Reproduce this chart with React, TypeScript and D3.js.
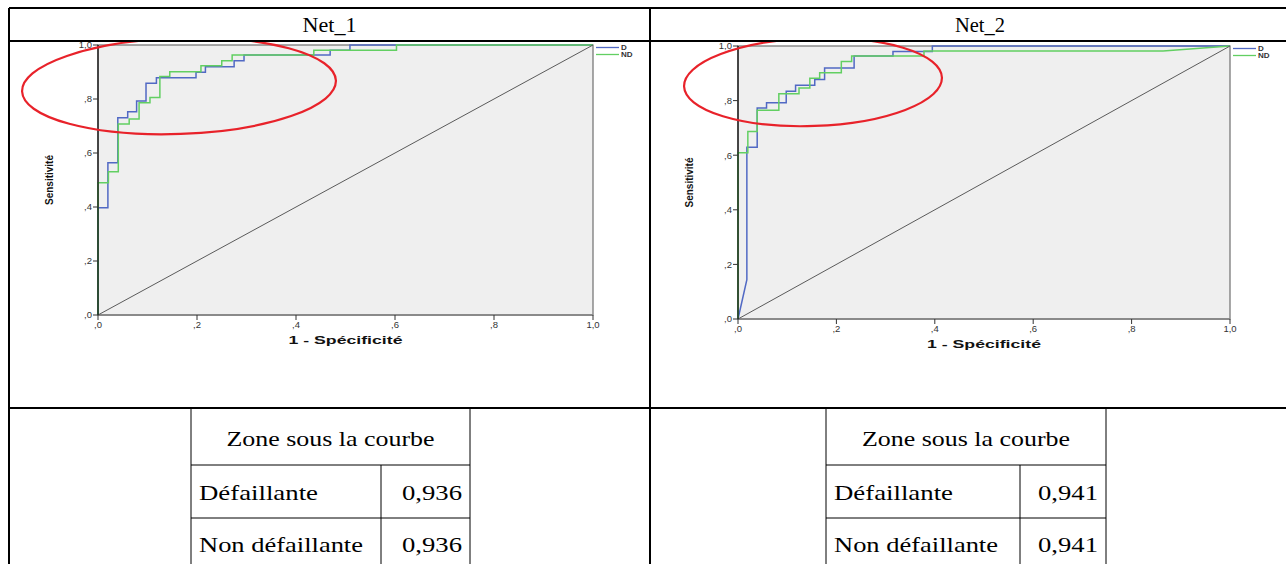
import React from 'react';
import * as d3 from 'd3';

// ROC step points [1 - specificity, sensitivity]
const net1D: [number, number][] = [
  [0, 0], [0, 0.397], [0.02, 0.397], [0.02, 0.564], [0.04, 0.564], [0.04, 0.731],
  [0.06, 0.731], [0.06, 0.753], [0.078, 0.753], [0.078, 0.793], [0.097, 0.793],
  [0.097, 0.858], [0.118, 0.858], [0.118, 0.879], [0.198, 0.879], [0.198, 0.899],
  [0.217, 0.899], [0.217, 0.919], [0.275, 0.919], [0.275, 0.942], [0.295, 0.942],
  [0.295, 0.963], [0.469, 0.963], [0.469, 0.981], [0.509, 0.981], [0.509, 1], [1, 1],
];
const net1ND: [number, number][] = [
  [0, 0], [0, 0.49], [0.021, 0.49], [0.021, 0.531], [0.041, 0.531], [0.041, 0.707],
  [0.063, 0.707], [0.063, 0.726], [0.083, 0.726], [0.083, 0.786], [0.105, 0.786],
  [0.105, 0.806], [0.125, 0.806], [0.125, 0.883], [0.145, 0.883], [0.145, 0.901],
  [0.208, 0.901], [0.208, 0.923], [0.25, 0.923], [0.25, 0.942], [0.271, 0.942],
  [0.271, 0.963], [0.436, 0.963], [0.436, 0.981], [0.603, 0.981], [0.603, 1], [1, 1],
];
const net2D: [number, number][] = [
  [0, 0], [0.018, 0.144], [0.018, 0.629], [0.039, 0.629], [0.039, 0.773], [0.058, 0.773],
  [0.058, 0.792], [0.098, 0.792], [0.098, 0.834], [0.117, 0.834], [0.117, 0.856],
  [0.156, 0.856], [0.156, 0.877], [0.176, 0.877], [0.176, 0.919], [0.236, 0.919],
  [0.236, 0.963], [0.315, 0.963], [0.315, 0.98], [0.395, 0.98], [0.395, 1], [1, 1],
];
const net2ND: [number, number][] = [
  [0, 0], [0, 0.609], [0.02, 0.609], [0.02, 0.687], [0.039, 0.687], [0.039, 0.765],
  [0.083, 0.765], [0.083, 0.825], [0.124, 0.825], [0.124, 0.846], [0.146, 0.846],
  [0.146, 0.882], [0.166, 0.882], [0.166, 0.902], [0.21, 0.902], [0.21, 0.943],
  [0.231, 0.943], [0.231, 0.963], [0.378, 0.963], [0.378, 0.982], [0.864, 0.982], [1, 1],
];

const ticks = [0, 0.2, 0.4, 0.6, 0.8, 1.0];
const tickLabels = [',0', ',2', ',4', ',6', ',8', '1,0'];
const legendLabels = ['D', 'ND'];
const aucRowLabels = ['Défaillante', 'Non défaillante'];
const net1Auc = ['0,936', '0,936'];
const net2Auc = ['0,941', '0,941'];

const BLUE = '#5169c4';
const GREEN = '#62cf62';
const SERIF = '"Liberation Serif", "Times New Roman", serif';
const SANS = '"Liberation Sans", Arial, sans-serif';

type Panel = {
  x0: number; x1: number; y0: number; y1: number;
  d: [number, number][]; nd: [number, number][];
  ylabX: number;
  ell: { cx: number; cy: number; rx: number; ry: number };
};

const RocPlot = ({ p }: { p: Panel }) => {
  const x = d3.scaleLinear().domain([0, 1]).range([p.x0, p.x1]);
  const y = d3.scaleLinear().domain([0, 1]).range([p.y0, p.y1]);
  const line = d3.line<[number, number]>().x(d => x(d[0])).y(d => y(d[1]));
  const cy = (p.y0 + p.y1) / 2;
  return (
    <g>
      <rect x={x(0)} y={y(1)} width={x(1) - x(0)} height={y(0) - y(1)} fill="#efefef" stroke="#6f6f6f" strokeWidth={1.2} />
      <line x1={x(0)} x2={x(1)} y1={y(0)} y2={y(0)} stroke="#8a8a8a" strokeWidth={2} />
      <path d={line(p.d) || ''} fill="none" stroke={BLUE} strokeWidth={1.5} />
      <path d={line(p.nd) || ''} fill="none" stroke={GREEN} strokeWidth={1.5} />
      <line x1={x(0)} y1={y(0)} x2={x(1)} y2={y(1)} stroke="#5a5a5a" strokeWidth={1} />
      <line x1={x(0)} x2={x(0)} y1={y(0)} y2={y(1)} stroke="#111" strokeWidth={1.3} />
      {ticks.map((t, i) => (
        <g key={'y' + i}>
          <line x1={x(0) - 5} x2={x(0)} y1={y(t)} y2={y(t)} stroke="#333" strokeWidth={1} />
          <text x={x(0) - 6} y={y(t)} dy="0.35em" textAnchor="end" fontSize={9.5} fontFamily={SANS} fill="#333">{tickLabels[i]}</text>
        </g>
      ))}
      {ticks.map((t, i) => (
        <g key={'x' + i}>
          <line x1={x(t)} x2={x(t)} y1={y(0)} y2={y(0) + 5} stroke="#333" strokeWidth={1} />
          <text x={x(t)} y={y(0) + 13} textAnchor="middle" fontSize={9.5} fontFamily={SANS} fill="#333">{tickLabels[i]}</text>
        </g>
      ))}
      <text x={(x(0) + x(1)) / 2} y={y(0) + 29} textAnchor="middle" fontSize={10.5} fontWeight="bold" fontFamily={SANS}
        textLength={114} lengthAdjust="spacingAndGlyphs" fill="#111">1 - Spécificité</text>
      <text transform={`translate(${p.ylabX},${cy}) rotate(-90)`} textAnchor="middle" dy="0.35em" fontSize={10.5}
        fontWeight="bold" fontFamily={SANS} textLength={50} lengthAdjust="spacingAndGlyphs" fill="#111">Sensitivité</text>
      {legendLabels.map((l, i) => (
        <g key={l}>
          <line x1={x(1) + 3} x2={x(1) + 26} y1={y(1) + 2.5 + i * 7} y2={y(1) + 2.5 + i * 7} stroke={i === 0 ? BLUE : GREEN} strokeWidth={1.3} />
          <text x={x(1) + 28} y={y(1) + 2.5 + i * 7} dy="0.35em" fontSize={8} fontWeight="bold" fontFamily={SANS} fill="#333">{l}</text>
        </g>
      ))}
      <ellipse cx={p.ell.cx} cy={p.ell.cy} rx={p.ell.rx} ry={p.ell.ry} fill="none" stroke="#e8222a" strokeWidth={2.2}
        transform={`rotate(-2 ${p.ell.cx} ${p.ell.cy})`} />
    </g>
  );
};

const AucTable = ({ left, right, mid, vals }: { left: number; right: number; mid: number; vals: string[] }) => {
  const top = 408, r1 = 465, r2 = 518, r3 = 571;
  const lw = [119, 164];
  return (
    <g fontFamily={SERIF} fontSize={22} fill="#000">
      <line x1={left} x2={left} y1={top} y2={r3} stroke="#000" strokeWidth={1} />
      <line x1={right} x2={right} y1={top} y2={r3} stroke="#000" strokeWidth={1} />
      <line x1={left} x2={right} y1={r1} y2={r1} stroke="#000" strokeWidth={1} />
      <line x1={left} x2={right} y1={r2} y2={r2} stroke="#000" strokeWidth={1} />
      <line x1={mid} x2={mid} y1={r1} y2={r3} stroke="#000" strokeWidth={1} />
      <text x={(left + right) / 2} y={(top + r1) / 2 + 2} dy="0.35em" textAnchor="middle"
        textLength={208} lengthAdjust="spacingAndGlyphs">Zone sous la courbe</text>
      {aucRowLabels.map((l, i) => {
        const cy = i === 0 ? (r1 + r2) / 2 + 1 : (r2 + r3) / 2;
        return (
          <g key={l}>
            <text x={left + 8} y={cy} dy="0.35em" textLength={lw[i]} lengthAdjust="spacingAndGlyphs">{l}</text>
            <text x={right - 8} y={cy} dy="0.35em" textAnchor="end" textLength={60} lengthAdjust="spacingAndGlyphs">{vals[i]}</text>
          </g>
        );
      })}
    </g>
  );
};

const panels: Panel[] = [
  { x0: 98, x1: 593, y0: 315, y1: 45, d: net1D, nd: net1ND, ylabX: 49, ell: { cx: 179, cy: 86, rx: 157, ry: 48 } },
  { x0: 738, x1: 1230, y0: 319, y1: 46, d: net2D, nd: net2ND, ylabX: 689, ell: { cx: 813, cy: 82, rx: 129, ry: 44 } },
];

export default function App() {
  const L = 9, M = 650, R = 1310, T = 8, H1 = 41, H2 = 408;
  return (
    <svg width={1286} height={564} style={{ position: 'absolute', left: 0, top: 0, background: '#fff' }}>
      <defs>
        <clipPath id="c1"><rect x={L} y={H1} width={M - L} height={H2 - H1} /></clipPath>
        <clipPath id="c2"><rect x={M} y={H1} width={R - M} height={H2 - H1} /></clipPath>
      </defs>
      <g clipPath="url(#c1)"><RocPlot p={panels[0]} /></g>
      <g clipPath="url(#c2)"><RocPlot p={panels[1]} /></g>
      <g stroke="#000" strokeWidth={2}>
        <line x1={L} x2={R} y1={T} y2={T} />
        <line x1={L} x2={R} y1={H1} y2={H1} />
        <line x1={L} x2={R} y1={H2} y2={H2} />
        <line x1={L} x2={L} y1={T} y2={564} />
        <line x1={M} x2={M} y1={T} y2={564} />
      </g>
      <text x={(L + M) / 2} y={(T + H1) / 2} dy="0.35em" textAnchor="middle" fontFamily={SERIF} fontSize={21}
        textLength={54} lengthAdjust="spacingAndGlyphs">Net_1</text>
      <text x={(M + R) / 2} y={(T + H1) / 2} dy="0.35em" textAnchor="middle" fontFamily={SERIF} fontSize={21}
        textLength={50} lengthAdjust="spacingAndGlyphs">Net_2</text>
      <AucTable left={191} right={470} mid={381} vals={net1Auc} />
      <AucTable left={826} right={1106} mid={1020} vals={net2Auc} />
    </svg>
  );
}
